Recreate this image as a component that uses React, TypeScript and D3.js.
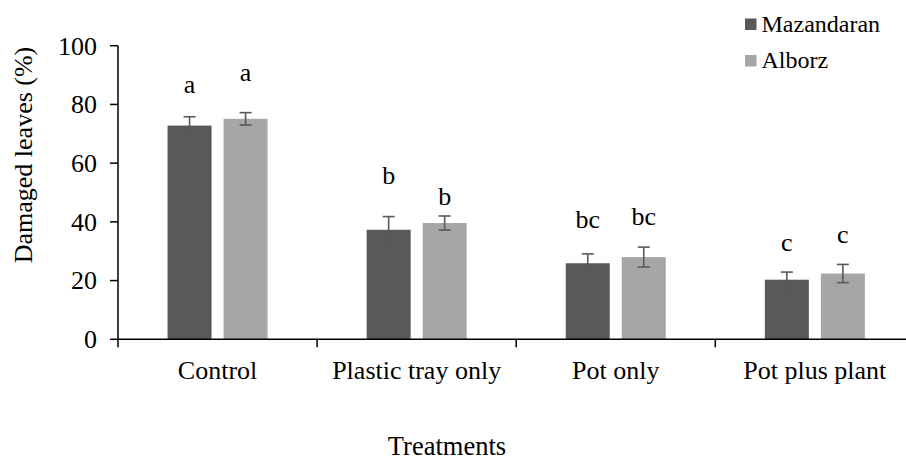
import React from "react";
import * as d3 from "d3";

const categories = ["Control", "Plastic tray only", "Pot only", "Pot plus plant"];
const seriesNames = ["Mazandaran", "Alborz"];
const mazandaran = [72.8, 37.3, 25.9, 20.3];
const mazandaranErr = [3.0, 4.5, 3.2, 2.6];
const alborz = [75.1, 39.6, 28.0, 22.4];
const alborzErr = [2.1, 2.4, 3.4, 3.1];
const mazandaranLetters = ["a", "b", "bc", "c"];
const alborzLetters = ["a", "b", "bc", "c"];
const mazandaranLetterAt = [83.9, 52.9, 37.8, 30.2];
const alborzLetterAt = [88.1, 45.7, 38.9, 32.9];
const yTicks = [0, 20, 40, 60, 80, 100];

const colors = ["#595959", "#a6a6a6"];
const errColor = "#595959";
const FONT = "Liberation Serif, Times New Roman, DejaVu Serif, serif";

export default function App() {
  const W = 906, H = 461;
  const x0 = 118, step = 199.1;
  const x = d3.scaleBand<string>().domain(categories).range([x0, x0 + step * categories.length]).padding(0);
  const bw = x.bandwidth();
  const xs = d3.scaleBand<string>().domain(seriesNames).range([bw / 2 - 50, bw / 2 + 50]).paddingInner(12 / 56).paddingOuter(0);
  const y = d3.scaleLinear().domain([0, 100]).range([339.3, 45.7]);

  const series = [
    { name: seriesNames[0], values: mazandaran, errs: mazandaranErr, letters: mazandaranLetters, letterAt: mazandaranLetterAt, color: colors[0] },
    { name: seriesNames[1], values: alborz, errs: alborzErr, letters: alborzLetters, letterAt: alborzLetterAt, color: colors[1] },
  ];

  const boundaries = d3.range(categories.length + 1).map((i) => x0 + i * step);
  const ts = (size: number): React.CSSProperties => ({ fontFamily: FONT, fontSize: size });

  return (
    <svg width={W} height={H} style={{ position: "absolute", left: 0, top: 0, fontFamily: FONT }}>
      <rect width={W} height={H} fill="#fff" />
      {series.map((s) =>
        categories.map((c, i) => {
          const bx = (x(c) as number) + (xs(s.name) as number);
          return (
            <rect key={s.name + c} x={bx} y={y(s.values[i])} width={xs.bandwidth()} height={y(0) - y(s.values[i])} fill={s.color} />
          );
        })
      )}
      {series.map((s) =>
        categories.map((c, i) => {
          const cx = (x(c) as number) + (xs(s.name) as number) + xs.bandwidth() / 2;
          const hi = y(s.values[i] + s.errs[i]);
          const lo = y(s.values[i] - s.errs[i]);
          return (
            <g key={"e" + s.name + c} stroke={errColor} strokeWidth={1.6}>
              <line x1={cx} x2={cx} y1={hi} y2={lo} />
              <line x1={cx - 6} x2={cx + 6} y1={hi} y2={hi} />
              <line x1={cx - 6} x2={cx + 6} y1={lo} y2={lo} />
            </g>
          );
        })
      )}
      {series.map((s) =>
        categories.map((c, i) => {
          const cx = (x(c) as number) + (xs(s.name) as number) + xs.bandwidth() / 2;
          return (
            <text key={"l" + s.name + c} x={cx} y={y(s.letterAt[i])} textAnchor="middle" style={ts(26)} fill="#000">
              {s.letters[i]}
            </text>
          );
        })
      )}
      <line x1={x0} x2={x0} y1={y(100)} y2={y(0)} stroke="#000" strokeWidth={1.5} />
      {yTicks.map((t) => (
        <g key={"yt" + t}>
          <line x1={x0 - 8} x2={x0} y1={y(t)} y2={y(t)} stroke="#000" strokeWidth={1.5} />
          <text x={97} y={y(t)} dy="0.34em" textAnchor="end" style={ts(26)} fill="#000">
            {t}
          </text>
        </g>
      ))}
      <line x1={x0} x2={W} y1={y(0)} y2={y(0)} stroke="#000" strokeWidth={1.5} />
      {boundaries.map((b, i) => (
        <line key={"xt" + i} x1={b} x2={b} y1={y(0)} y2={y(0) + 8} stroke="#000" strokeWidth={1.5} />
      ))}
      {categories.map((c) => (
        <text key={"xl" + c} x={(x(c) as number) + bw / 2} y={379.3} textAnchor="middle" style={ts(26)} fill="#000">
          {c}
        </text>
      ))}
      <text x={447} y={455} textAnchor="middle" style={ts(26.5)} fill="#000">
        Treatments
      </text>
      <text transform={`translate(31.5,155) rotate(-90)`} textAnchor="middle" style={ts(26)} fill="#000">
        Damaged leaves (%)
      </text>
      {series.map((s, i) => (
        <g key={"lg" + s.name}>
          <rect x={745} y={18.5 + i * 36.5} width={11.5} height={11.5} fill={s.color} />
          <text x={761.5} y={31.7 + i * 36} style={ts(24)} fill="#000">
            {s.name}
          </text>
        </g>
      ))}
    </svg>
  );
}
